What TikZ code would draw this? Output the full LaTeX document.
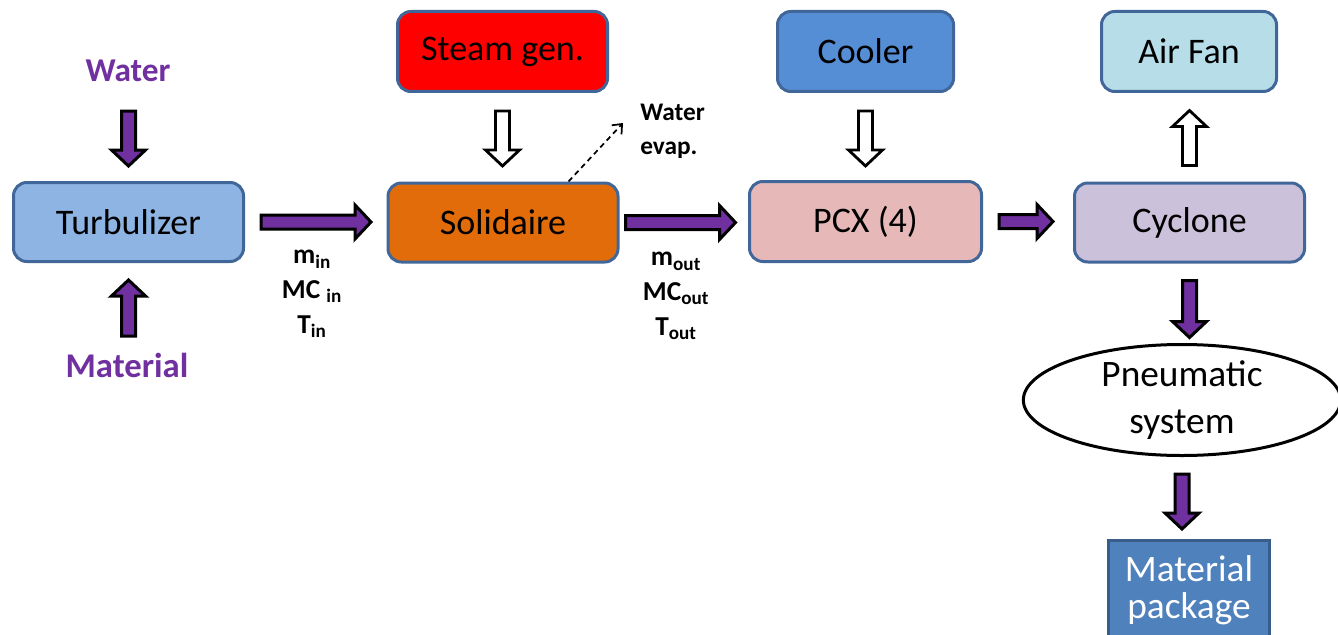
\documentclass[tikz,border=0pt]{standalone}
\usepackage{fontspec}
\setmainfont{Carlito}
\usetikzlibrary{shapes.geometric,arrows.meta,calc}
\definecolor{bordblue}{HTML}{41679A}
\definecolor{procpurple}{HTML}{7030A0}
\definecolor{turbfill}{HTML}{8EB4E3}
\definecolor{solfill}{HTML}{E36C0A}
\definecolor{steamfill}{HTML}{FF0000}
\definecolor{coolfill}{HTML}{558ED5}
\definecolor{pcxfill}{HTML}{E6B9B8}
\definecolor{fanfill}{HTML}{B7DEE8}
\definecolor{cycfill}{HTML}{CCC1DA}
\definecolor{pkgfill}{HTML}{4F81BD}
\definecolor{pkgborder}{HTML}{385D8A}
\tikzset{
  pics/blockarrow/.style={code={
    \path[pic actions] (0,-7) -- ({#1-16},-7) -- ({#1-16},-17) -- (#1,0) -- ({#1-16},17) -- ({#1-16},7) -- (0,7) -- cycle;
  }},
  flowarrow/.style={draw=black, fill=procpurple, line width=2.25pt, miter limit=10},
  heatarrow/.style={draw=black, fill=white, line width=2.1pt, miter limit=10},
  unitbox/.style={draw=bordblue, line width=2.25pt, rounded corners=10pt, inner sep=0pt,
    font=\fontsize{27pt}{32pt}\selectfont, text=black},
  sidelabel/.style={text=procpurple, inner sep=0pt, font=\bfseries},
  paramlabel/.style={inner sep=0pt, align=center, font=\fontsize{20.5pt}{26pt}\selectfont\bfseries},
}
\begin{document}
\begin{tikzpicture}[x=0.75pt,y=-0.75pt]
\useasboundingbox (0,0) rectangle (1338,635);
\clip (0,0) rectangle (1338,635);

% process units
\node[unitbox, fill=turbfill, minimum width=172.5pt, minimum height=59.25pt] (turb) at (128.5,222) {Turbulizer};
\node[unitbox, fill=solfill, minimum width=172.5pt, minimum height=59.25pt] (sol) at (503,222.5) {Solidaire};
\node[unitbox, fill=steamfill, minimum width=157.5pt, minimum height=60pt] (steam) at (502.5,51.5) {Steam gen.};
\node[unitbox, fill=coolfill, minimum width=132pt, minimum height=60pt] (cool) at (865.5,51.5) {Cooler};
\node[unitbox, fill=pcxfill, minimum width=174pt, minimum height=60pt] (pcx) at (865.5,221.5) {PCX (4)};
\node[unitbox, fill=fanfill, minimum width=131.25pt, minimum height=60pt] (fan) at (1189,51.5) {Air Fan};
\node[unitbox, fill=cycfill, minimum width=172.5pt, minimum height=59.25pt] (cyc) at (1189.5,222.5) {Cyclone};
\node[ellipse, draw=black, fill=white, line width=2.25pt, minimum width=238pt, minimum height=75pt, inner sep=0pt,
  align=center, font=\fontsize{28pt}{35pt}\selectfont] (pneu) at (1182,400) {Pneumatic\\system};
\node[draw=pkgborder, fill=pkgfill, line width=2.25pt, minimum width=121pt, minimum height=75pt, inner sep=0pt,
  align=center, text=white, font=\fontsize{28pt}{28pt}\selectfont] (pkg) at (1189,590) {Material\\package};

% side labels
\node[sidelabel, font=\fontsize{25pt}{30pt}\selectfont\bfseries, anchor=base] (water) at (128,82) {Water};
\node[sidelabel, font=\fontsize{26pt}{31pt}\selectfont\bfseries, anchor=base] (mat) at (127,377) {Material};
\node[paramlabel] (inparams) at (312,294) {m\textsubscript{in}\\MC \textsubscript{in}\\T\textsubscript{in}};
\node[paramlabel] (outparams) at (676,296) {m\textsubscript{out}\\MC\textsubscript{out}\\T\textsubscript{out}};
\node[inner sep=0pt, align=left, anchor=north west, font=\fontsize{19pt}{25pt}\selectfont\bfseries] (evap) at (640,104) {Water\\evap.};

% material flow arrows
\pic[flowarrow, rotate=-90] at ($(turb.north)+(0,-70)$) {blockarrow=55};
\pic[flowarrow, rotate=90] at ($(turb.south)+(0,73)$) {blockarrow=56};
\pic[flowarrow] at ($(turb.east)+(16,0)$) {blockarrow=110};
\pic[flowarrow] at ($(sol.east)+(6,0)$) {blockarrow=110};
\pic[flowarrow] at ($(pcx.east)+(16,0)$) {blockarrow=54};
\pic[flowarrow, rotate=-90] at ($(cyc.south)+(0,17)$) {blockarrow=57};
\pic[flowarrow, rotate=-90] at ($(pneu.south)+(0,17)$) {blockarrow=55};

% heat / air arrows
\pic[heatarrow, rotate=-90] at ($(steam.south)+(0,18)$) {blockarrow=55};
\pic[heatarrow, rotate=-90] at ($(cool.south)+(0,18)$) {blockarrow=55};
\pic[heatarrow, rotate=90] at ($(cyc.north)+(0,-16)$) {blockarrow=55};

% evaporation
\coordinate (evapend) at (623,123);
\draw[line width=1.3pt, dash pattern=on 4pt off 3pt, -{Straight Barb[length=6pt,width=10pt]}]
  ($(sol.north east)+(-51,0)$) -- (evapend);
\end{tikzpicture}
\end{document}
